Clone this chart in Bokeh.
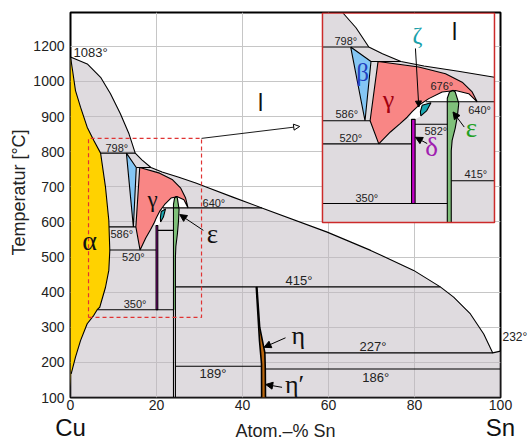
import math
from bokeh.plotting import figure
from bokeh.models import Range1d, FixedTicker, Label, Arrow, NormalHead, LinearAxis
from bokeh.embed import file_html
from bokeh.resources import INLINE

# ---------------- data (x: Atom-% Sn, t: temperature in °C) ----------------
liquidus_x = [0, 3.9, 7.0, 9.3, 11.6, 13.6, 15.05, 16.6, 18.7, 21.3, 25.2, 29.3, 31.4, 37.9,
              44.5, 59.7, 69.8, 79.8, 86.0, 89.1, 93.0, 96.1, 98.2, 100]
liquidus_t = [1070, 1050, 1012, 965, 908, 851, 796, 777, 755, 742, 727, 710, 700, 670,
              640, 571, 519, 462, 415, 386, 338, 281, 227, 232]

alpha_x = [0, 0.5, 1.16, 2.33, 3.88, 5.42, 7.0, 8.14, 8.91, 9.14, 8.91, 8.14, 6.8, 6.2,
           5.42, 3.88, 2.33, 1.16, 0.16, 0]
alpha_t = [1070, 1030, 974, 927, 870, 832, 796, 699, 604, 519, 462, 414, 357, 350,
           334, 310, 262, 215, 167, 129]

beta_x = [13.0, 15.3, 14.62]
beta_t = [796, 755, 586]

gamma_x = [16.1, 20.72, 23.75, 25.64, 26.77, 27.34, 26.38, 24.88, 23.37, 21.85, 20.72,
           19.97, 19.4, 18.6, 17.5, 16.18, 15.2]
gamma_t = [755, 739, 720, 696, 668, 640, 663, 672, 668, 649, 630, 612, 596, 578, 554, 520, 586]

gap_x = [19.6, 19.97, 20.72, 21.85, 23.37, 24.88, 26.38, 27.34, 22.0, 21.4, 20.9, 20.3]
gap_t = [592, 612, 630, 649, 668, 672, 663, 640, 640, 620, 598, 590]

zeta_x = [21.1, 22.1, 21.6, 20.95, 20.9]
zeta_t = [630, 637, 614, 600, 612]

delta_x = [19.9, 20.3, 20.3, 19.9]
delta_t = [350, 350, 590, 590]

eps_x = [24.6, 24.85, 25.25, 25.1, 24.85, 24.5, 24.4, 24.4, 23.95, 23.95, 24.2]
eps_t = [673, 668, 636, 600, 565, 530, 500, 100, 100, 650, 668]

eta_left_x = [43.2, 43.95, 44.42, 44.45]
eta_left_t = [415, 262, 196, 100]
eta_right_x = [45.35, 45.3, 45.2, 44.95, 44.0, 43.35]
eta_right_t = [100, 181, 227, 243, 300, 415]

# invariant (horizontal) lines: temperature, x from, x to
iso_t = [796, 755, 586, 520, 640, 576, 350, 415, 189, 227, 181]
iso_x0 = [7.0, 15.3, 8.96, 9.14, 21.5, 20.3, 6.2, 24.4, 24.4, 45.2, 45.3]
iso_x1 = [15.05, 18.7, 15.2, 19.9, 44.5, 23.95, 23.95, 86.0, 44.42, 98.2, 100]

y_ticks = [100, 200, 300, 400, 500, 600, 700, 800, 900, 1000, 1100]
y_tick_text = {1100: "1200"}
x_ticks = [0, 20, 40, 60, 80, 100]
end_ticks = [0, 100]
end_text = {0: "Cu", 100: "Sn"}
sn_ticks = [271]
sn_text = {271: "232°"}

# zoom window shown in the inset (x from, x to, t from, t to)
inset_window = (9.8, 29.3, 296, 893)
zoom_box_x = [4.19, 30.47]
zoom_box_t = [328, 838]

# ---------------- colours ----------------
C_GRAY = "#bfb7bf"
C_ALPHA = "#ffd200"
C_BETA = "#84c6f4"
C_GAMMA = "#f98685"
C_ZETA = "#1aa8b2"
C_DELTA = "#c400c8"
C_EPS = "#7fc07a"
C_ETA = "#b8660e"

# ---------------- helpers ----------------
def clip_poly(xs, ys, x0, x1, y0, y1):
    pts = list(zip(xs, ys))

    def clip(pts, inside, inter):
        out = []
        for i in range(len(pts)):
            cur, prev = pts[i], pts[i - 1]
            if inside(cur):
                if not inside(prev):
                    out.append(inter(prev, cur))
                out.append(cur)
            elif inside(prev):
                out.append(inter(prev, cur))
        return out

    def ix(xc):
        return lambda p, q: (xc, p[1] + (q[1] - p[1]) * (xc - p[0]) / (q[0] - p[0]))

    def iy(yc):
        return lambda p, q: (p[0] + (q[0] - p[0]) * (yc - p[1]) / (q[1] - p[1]), yc)

    for inside, inter in [(lambda p: p[0] >= x0, ix(x0)), (lambda p: p[0] <= x1, ix(x1)),
                          (lambda p: p[1] >= y0, iy(y0)), (lambda p: p[1] <= y1, iy(y1))]:
        if not pts:
            break
        pts = clip(pts, inside, inter)
    return [p[0] for p in pts], [p[1] for p in pts]


def clip_line(xs, ys, x0, x1, y0, y1):
    segs, cur = [], []
    for i in range(len(xs) - 1):
        ax, ay, bx, by = xs[i], ys[i], xs[i + 1], ys[i + 1]
        dx, dy = bx - ax, by - ay
        t0, t1, ok = 0.0, 1.0, True
        for pp, qq in ((-dx, ax - x0), (dx, x1 - ax), (-dy, ay - y0), (dy, y1 - ay)):
            if pp == 0:
                if qq < 0:
                    ok = False
                    break
            else:
                r = qq / pp
                if pp < 0:
                    t0 = max(t0, r)
                else:
                    t1 = min(t1, r)
        if not ok or t0 > t1:
            if cur:
                segs.append(cur)
                cur = []
            continue
        p0 = (ax + t0 * dx, ay + t0 * dy)
        p1 = (ax + t1 * dx, ay + t1 * dy)
        if cur and abs(cur[-1][0] - p0[0]) < 1e-9 and abs(cur[-1][1] - p0[1]) < 1e-9:
            cur.append(p1)
        else:
            if cur:
                segs.append(cur)
            cur = [p0, p1]
        if t1 < 1.0:
            segs.append(cur)
            cur = []
    if cur:
        segs.append(cur)
    return segs


# ---------------- figure ----------------
p = figure(width=531, height=443, x_range=Range1d(0, 100), y_range=Range1d(100, 1196.5),
           output_backend="svg", toolbar_location=None,
           min_border_left=70, min_border_right=31, min_border_top=12, min_border_bottom=46,
           background_fill_color="white", border_fill_color="white")
p.outline_line_color = "black"
p.outline_line_width = 2

# inset ranges: the inset window mapped onto a sub-rectangle of the frame
fx0, fx1, fy0, fy1 = 0.586, 0.986, 0.4545, 0.9987
wx0, wx1, wy0, wy1 = inset_window
sx = (wx1 - wx0) / (fx1 - fx0)
sy = (wy1 - wy0) / (fy1 - fy0)
p.extra_x_ranges = {"inset": Range1d(wx0 - fx0 * sx, wx0 - fx0 * sx + sx)}
p.extra_y_ranges = {"inset": Range1d(wy0 - fy0 * sy, wy0 - fy0 * sy + sy)}


def style_axis(ax, size):
    ax.axis_line_color = None
    ax.major_tick_line_color = None
    ax.minor_tick_line_color = None
    ax.major_tick_out = 0
    ax.major_label_text_font = "Liberation Sans"
    ax.major_label_text_font_size = size
    ax.major_label_text_color = "#222222"
    ax.axis_label_text_font = "Liberation Sans"
    ax.axis_label_text_font_style = "normal"
    ax.axis_label_text_color = "#222222"


style_axis(p.xaxis[0], "14px")
style_axis(p.yaxis[0], "14px")
p.xaxis.ticker = FixedTicker(ticks=x_ticks)
p.yaxis.ticker = FixedTicker(ticks=y_ticks)
p.yaxis.major_label_overrides = y_tick_text
p.xaxis.major_label_standoff = 2
p.yaxis.major_label_standoff = 6
p.yaxis.axis_label = "\u00a0" * 5 + "Temperatur [°C]"
p.yaxis.axis_label_text_font_size = "18px"
p.yaxis.axis_label_standoff = 1
p.xgrid.grid_line_color = "#c6c6c6"
p.ygrid.grid_line_color = "#c6c6c6"

ax_end = LinearAxis(ticker=FixedTicker(ticks=end_ticks), major_label_overrides=end_text)
style_axis(ax_end, "24px")
ax_end.major_label_text_color = "#111111"
ax_end.major_label_standoff = 1
ax_end.axis_label = "Atom.–% Sn"
ax_end.axis_label_text_font_size = "18px"
ax_end.axis_label_standoff = -23
p.add_layout(ax_end, "below")

ax_sn = LinearAxis(ticker=FixedTicker(ticks=sn_ticks), major_label_overrides=sn_text)
style_axis(ax_sn, "12px")
ax_sn.major_label_standoff = 2
p.add_layout(ax_sn, "right")


def draw(rn, window):
    kw = dict(x_range_name=rn, y_range_name=rn)

    def poly(xs, ys, color, alpha=1.0, win=None):
        w = win or window
        if w:
            xs, ys = clip_poly(xs, ys, *w)
        if len(xs) < 3:
            return
        p.patch(list(xs), list(ys), fill_color=color, fill_alpha=alpha, line_color=None, **kw)

    def lines(ls, width=1.1, color="black"):
        mx, my = [], []
        for xs, ys in ls:
            if window:
                for s in clip_line(xs, ys, *window):
                    mx.append([a for a, b in s])
                    my.append([b for a, b in s])
            else:
                mx.append(list(xs))
                my.append(list(ys))
        if mx:
            p.multi_line(mx, my, line_color=color, line_width=width, **kw)

    def closed(xs, ys):
        return list(xs) + [xs[0]], list(ys) + [ys[0]]

    # two-phase background below the liquidus
    poly(liquidus_x + [100, 0], liquidus_t + [100, 100], C_GRAY, 0.5)
    poly(gap_x, gap_t, "white")
    poly(alpha_x, alpha_t, C_ALPHA)
    poly(beta_x, beta_t, C_BETA)
    poly(gamma_x, gamma_t, C_GAMMA)
    poly(zeta_x, zeta_t, C_ZETA)
    poly(delta_x, delta_t, C_DELTA)
    if window:
        poly(eps_x, eps_t, C_EPS)
    else:
        poly(eps_x, eps_t, C_EPS, win=(-1e9, 1e9, 350, 1e9))
    poly(eta_left_x + eta_right_x, eta_left_t + eta_right_t, C_ETA)

    ls = [(liquidus_x, liquidus_t),
          (alpha_x[:-1], alpha_t[:-1]),
          closed(beta_x, beta_t), closed(gamma_x, gamma_t), closed(zeta_x, zeta_t),
          closed(delta_x, delta_t),
          (eps_x[:8], eps_t[:8]), (eps_x[8:] + [eps_x[0]], eps_t[8:] + [eps_t[0]])]
    for t, a, b in zip(iso_t, iso_x0, iso_x1):
        ls.append(([a, b], [t, t]))
    lines(ls)
    lines([(eta_left_x, eta_left_t), (eta_right_x, eta_right_t)], width=1.6)


def lab(x, y, text, size, color="#222222", font="Liberation Sans", rn="default",
        align="left", angle=0.0):
    p.add_layout(Label(x=x, y=y, text=text, text_font_size=f"{size}px", text_color=color,
                       text_font=font, text_align=align, text_baseline="middle",
                       x_range_name=rn, y_range_name=rn, angle=angle))


def arrow(x0, y0, x1, y1, rn="default", fill="black", size=7, width=1.0):
    p.add_layout(Arrow(end=NormalHead(size=size, fill_color=fill, line_color="black",
                                      line_width=1),
                       x_start=x0, y_start=y0, x_end=x1, y_end=y1, line_width=width,
                       line_color="black", x_range_name=rn, y_range_name=rn))


# ---------------- main diagram ----------------
draw("default", None)

bx, bt = zoom_box_x, zoom_box_t
p.line([bx[0], bx[1], bx[1], bx[0], bx[0]], [bt[0], bt[0], bt[1], bt[1], bt[0]],
       line_color="#e03333", line_width=1.2, line_dash="4 3")
arrow(bx[1], bt[1], 53.3, 872, fill="white", size=6, width=0.9)

SERIF = "Liberation Serif"
for text, x, t, s in [("1083°", 0.7, 1083, 13), ("798°", 8.14, 812, 11), ("586°", 9.3, 567, 11),
                      ("520°", 11.98, 499, 11), ("350°", 12.37, 366, 11), ("640°", 30.7, 654, 11),
                      ("415°", 50.0, 432, 13), ("227°", 67.2, 245, 13), ("186°", 67.84, 157, 13),
                      ("189°", 30.0, 168, 13)]:
    lab(x, t, text, s)

lab(44.2, 940, "l", 23, "#111111", align="center")
lab(4.42, 547, "α", 28, "#111111", SERIF, align="center")
lab(19.07, 664, "γ", 23, "#111111", SERIF, align="center")
lab(33.0, 566, "ε", 27, "#111111", SERIF, align="center")
lab(53.0, 276, "η", 26, "#111111", SERIF, align="center")
lab(52.1, 136, "η′", 26, "#111111", SERIF, align="center")
arrow(30.9, 576, 25.4, 621)
arrow(50.0, 270, 45.0, 243)
arrow(49.2, 129, 45.4, 137)

# ---------------- inset ----------------
p.quad(left=wx0, right=wx1, bottom=wy0, top=wy1, fill_color="white", line_color=None,
       x_range_name="inset", y_range_name="inset")
draw("inset", inset_window)
p.quad(left=wx0, right=wx1, bottom=wy0, top=wy1, fill_color=None, line_color="#cc2a2a",
       line_width=1.5, x_range_name="inset", y_range_name="inset")

for text, x, t in [("798°", 11.16, 812), ("586°", 11.27, 604), ("520°", 11.73, 537),
                   ("350°", 13.54, 366), ("676°", 22.04, 684), ("640°", 26.32, 618),
                   ("582°", 21.36, 558), ("415°", 25.9, 433)]:
    lab(x, t, text, 11, rn="inset")

lab(24.77, 838, "l", 23, "#111111", rn="inset", align="center")
lab(20.57, 831, "ζ", 24, "#1aa0aa", SERIF, rn="inset", align="center")
lab(14.34, 724, "β", 25, "#2040c0", SERIF, rn="inset", align="center")
lab(17.28, 646, "γ", 26, "#a30010", SERIF, rn="inset", align="center")
lab(22.16, 512, "δ", 27, "#a020b0", SERIF, rn="inset", align="center")
lab(26.69, 566, "ε", 27, "#22a022", SERIF, rn="inset", align="center")
arrow(20.34, 792, 20.72, 625, rn="inset", size=6)
arrow(25.87, 568, 24.6, 611, rn="inset")
arrow(21.67, 521, 20.34, 539, rn="inset")

open("out.html", "w").write(file_html(p, INLINE))
